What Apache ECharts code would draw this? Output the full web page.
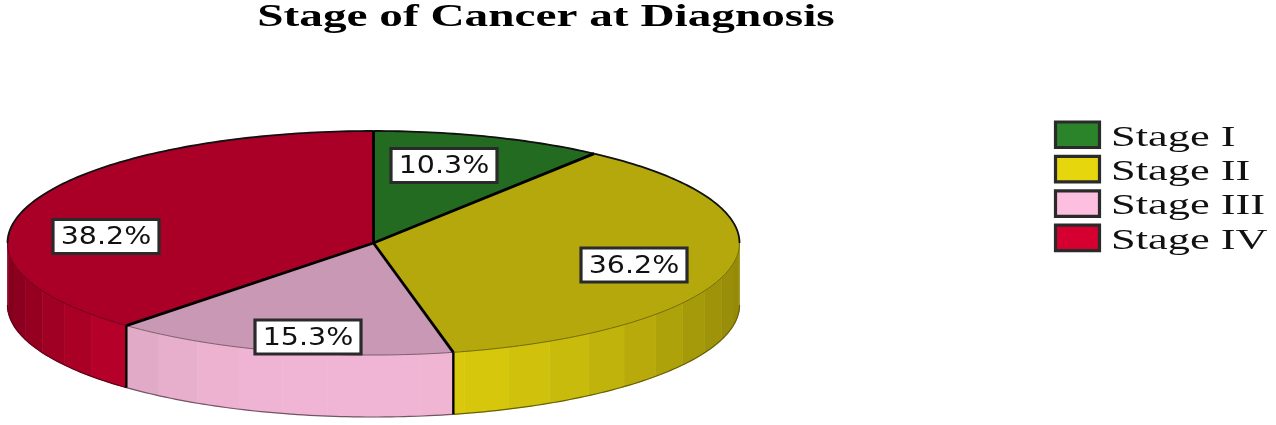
<!DOCTYPE html>
<html>
<head>
<meta charset="utf-8">
<style>
html,body{margin:0;padding:0;background:#fff}
#c{width:1276px;height:425px;filter:blur(0.45px)}
</style>
<script src="https://cdn.jsdelivr.net/npm/echarts@6/dist/echarts.min.js"></script>
</head>
<body>
<div id="c"></div>
<script>
const chartTitle = 'Stage of Cancer at Diagnosis';
const stageNames = ['Stage I', 'Stage II', 'Stage III', 'Stage IV'];
const stageValues = [10.3, 36.2, 15.3, 38.2];
const legendColors = ['#2b832a', '#e6d60d', '#fdbfdf', '#d60030'];
const topColors = ['#226b20', '#b5a80c', '#c898b4', '#aa0028'];
const labelCenters = [[444, 165.5], [634, 265], [308, 337], [106, 236.5]];

const cx = 373.5, cy = 243, rx = 366, ry = 112, depth = 62, bandDeg = 7.2;

function pt(deg, dy) {
  const r = deg * Math.PI / 180;
  return [cx + rx * Math.sin(r), cy - ry * Math.cos(r) + (dy || 0)];
}
function arc(a, b, dy) {
  const out = [], n = Math.max(2, Math.ceil(Math.abs(b - a)));
  for (let k = 0; k <= n; k++) out.push(pt(a + (b - a) * k / n, dy));
  return out;
}
function shade(hex, f) {
  const n = parseInt(hex.slice(1), 16);
  const c = [n >> 16 & 255, n >> 8 & 255, n & 255].map(v => Math.round(v * f));
  return 'rgb(' + c.join(',') + ')';
}
function bandFactor(x) {
  if (x < 400) return 0.95 - 0.33 * Math.pow((400 - x) / 392, 4);
  return 0.95 - 0.31 * Math.pow((x - 400) / 340, 2);
}

function renderSlice(i) {
  return function (params, api) {
    const value = api.value(0);
    let start = 0;
    for (let k = 0; k < i; k++) start += stageValues[k];
    const a0 = start * 3.6, a1 = (start + value) * 3.6;
    const kids = [];

    // Front wall, built from narrow shaded bands
    const s0 = Math.max(a0, 90), s1 = Math.min(a1, 270);
    if (s1 > s0) {
      let b = s0;
      while (b < s1 - 1e-6) {
        const e = Math.min(s1, (Math.floor(b / bandDeg + 1e-6) + 1) * bandDeg);
        const mid = pt((b + e) / 2)[0];
        const col = shade(legendColors[i], bandFactor(mid));
        kids.push({
          type: 'polygon', z2: 1,
          shape: { points: arc(b, e, 0).concat(arc(e, b, depth)) },
          style: { fill: col, stroke: col, lineWidth: 0.6 }
        });
        b = e;
      }
      kids.push({ type: 'polyline', z2: 3, shape: { points: arc(s0, s1, depth) },
        style: { fill: 'none', stroke: shade(legendColors[i], 0.45), lineWidth: 1.2 } });
      kids.push({ type: 'polyline', z2: 3, shape: { points: arc(s0, s1, 0) },
        style: { fill: 'none', stroke: shade(legendColors[i], 0.5), lineWidth: 1 } });
      // Vertical edge where a slice meets the next one on the front wall
      if (a1 < 270) {
        kids.push({ type: 'polyline', z2: 5, shape: { points: [pt(a1, 0), pt(a1, depth)] },
          style: { fill: 'none', stroke: '#000', lineWidth: 2.4 } });
      }
    }

    // Top face
    kids.push({
      type: 'polygon', z2: 2,
      shape: { points: [[cx, cy]].concat(arc(a0, a1, 0)) },
      style: { fill: topColors[i], stroke: topColors[i], lineWidth: 0.5 }
    });

    // Back rim
    const rims = [[Math.max(a0, 270), a1], [a0, Math.min(a1, 90)]];
    rims.forEach(function (r) {
      if (r[1] > r[0]) {
        kids.push({ type: 'polyline', z2: 4, shape: { points: arc(r[0], r[1], 0) },
          style: { fill: 'none', stroke: '#111', lineWidth: 1.8 } });
      }
    });

    // Radial divider at the slice's start
    kids.push({ type: 'polyline', z2: 5, shape: { points: [[cx, cy], pt(a0, 0)] },
      style: { fill: 'none', stroke: '#000', lineWidth: 2.8 } });

    // Value label
    const c = labelCenters[i];
    kids.push({ type: 'rect', z2: 8, shape: { x: c[0] - 53, y: c[1] - 17, width: 106, height: 34 },
      style: { fill: '#fff', stroke: '#2a2a2a', lineWidth: 3.2 } });
    kids.push({ type: 'text', z2: 9, x: c[0], y: c[1] + 1, scaleX: 1.14,
      style: { text: value.toFixed(1) + '%', font: '25px "DejaVu Sans"', fill: '#111',
        textAlign: 'center', textVerticalAlign: 'middle' } });

    return { type: 'group', children: kids };
  };
}

const legendGraphics = [];
stageNames.forEach(function (name, i) {
  const y = 121 + i * 34.4;
  legendGraphics.push({ type: 'rect', shape: { x: 1055.5, y: y + 1, width: 44, height: 25.5 },
    style: { fill: legendColors[i], stroke: '#2a2a2a', lineWidth: 3.2 } });
  legendGraphics.push({ type: 'text', x: 1111, y: y + 17, scaleX: 1.53,
    style: { text: name, font: '29px "Liberation Serif"', fill: '#111',
      textAlign: 'left', textVerticalAlign: 'middle' } });
});

const chart = echarts.init(document.getElementById('c'), null, { renderer: 'canvas' });
chart.setOption({
  animation: false,
  backgroundColor: '#fff',
  series: stageNames.map(function (name, i) {
    return {
      type: 'custom', name: name, coordinateSystem: 'none', silent: true,
      data: [[stageValues[i]]], renderItem: renderSlice(i)
    };
  }),
  graphic: [{
    type: 'text', x: 546, y: 18, scaleX: 1.5,
    style: { text: chartTitle, font: 'bold 31.5px "Liberation Serif"', fill: '#000',
      textAlign: 'center', textVerticalAlign: 'middle' }
  }].concat(legendGraphics)
});
</script>
</body>
</html>
